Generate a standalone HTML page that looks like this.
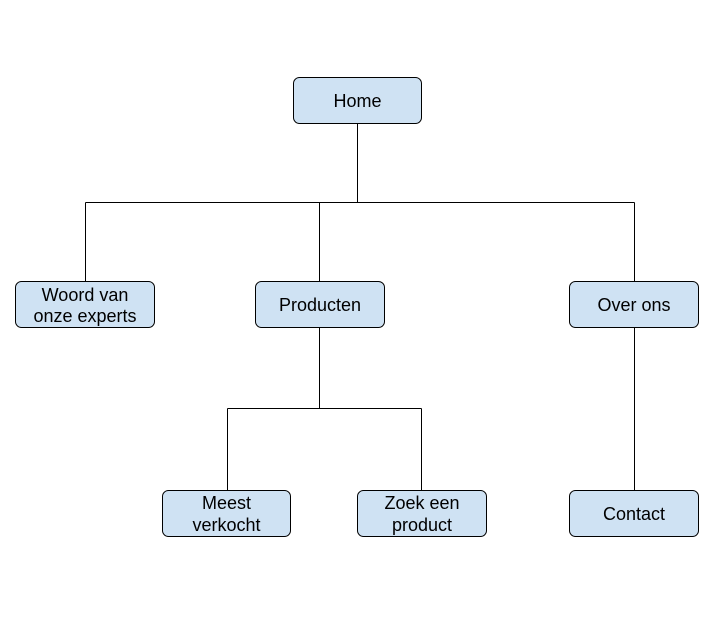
<!DOCTYPE html>
<html><head><style>
body{margin:0;background:#fff;width:724px;height:623px;overflow:hidden}
svg text{font-family:"Liberation Sans",Arial,sans-serif;font-size:18px;fill:#000}
</style></head><body>
<svg width="724" height="623" xmlns="http://www.w3.org/2000/svg">
<g stroke="#000" stroke-width="1" fill="none">
<path d="M357.5 123V202.5M85.5 202.5H634.5M85.5 202.5V281M319.5 202.5V281M634.5 202.5V281M319.5 327V408.5M227.5 408.5H421.5M227.5 408.5V490M421.5 408.5V490M634.5 327V490"/>
</g>
<g fill="#cfe2f3" stroke="#000" stroke-width="1">
<rect x="293.5" y="77.5" width="128" height="46" rx="6"/>
<rect x="15.5" y="281.5" width="139" height="46" rx="6"/>
<rect x="255.5" y="281.5" width="129" height="46" rx="6"/>
<rect x="569.5" y="281.5" width="129" height="46" rx="6"/>
<rect x="162.5" y="490.5" width="128" height="46" rx="6"/>
<rect x="357.5" y="490.5" width="129" height="46" rx="6"/>
<rect x="569.5" y="490.5" width="129" height="46" rx="6"/>
</g>
<g text-anchor="middle">
<text x="357.5" y="107">Home</text>
<text x="85" y="301">Woord van</text>
<text x="85" y="322">onze experts</text>
<text x="320" y="311">Producten</text>
<text x="634" y="311">Over ons</text>
<text x="226.5" y="509">Meest</text>
<text x="226.5" y="531">verkocht</text>
<text x="422" y="509">Zoek een</text>
<text x="422" y="531">product</text>
<text x="634" y="520">Contact</text>
</g>
</svg>
</body></html>
